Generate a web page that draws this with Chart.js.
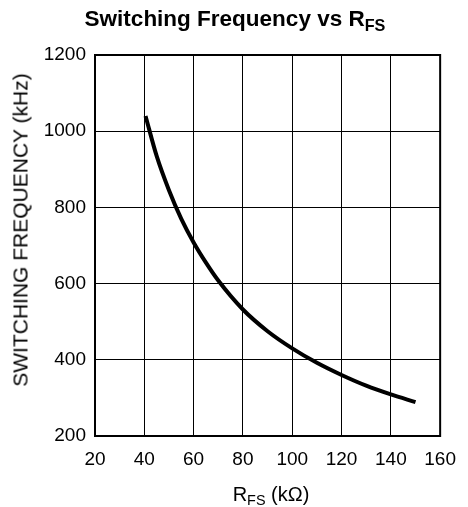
<!DOCTYPE html>
<html>
<head>
<meta charset="utf-8">
<script src="https://cdn.jsdelivr.net/npm/chart.js@4"></script>
<style>
  html, body { margin: 0; padding: 0; background: #fff; }
  #wrap { position: relative; width: 468px; height: 507px; overflow: hidden; }
  #c { position: absolute; left: 0; top: 0; }
  .t { position: absolute; font-family: "Liberation Sans", Arial, sans-serif; color: #000; white-space: nowrap; line-height: 1; }
  #title { left: 0; width: 470px; text-align: center; top: 8px; font-weight: bold; font-size: 22.5px; }
  #title sub, #xt sub { font-size: 0.72em; vertical-align: -0.3em; line-height: 0; }
  #xt { left: 0; width: 542px; text-align: center; top: 484px; font-size: 20px; }
  #yt { left: 20px; top: 230px; font-size: 21px; transform: translate(-50%, -50%) rotate(-90deg); }
</style>
</head>
<body>
<div id="wrap">
  <canvas id="c" width="468" height="507"></canvas>
  <div class="t" id="title">Switching Frequency vs R<sub>FS</sub></div>
  <div class="t" id="yt">SWITCHING FREQUENCY (kHz)</div>
  <div class="t" id="xt">R<sub>FS</sub> (kΩ)</div>
</div>
<script>
// Data
const rfsValues = [40.5, 45, 50, 55, 60, 65, 70, 80, 90, 100, 110, 120, 130, 140, 150];
const freqValues = [1040, 935, 845, 770, 708, 655, 608, 532, 475, 430, 392, 360, 332, 309, 289];
const xTicks = [20, 40, 60, 80, 100, 120, 140, 160];
const yTicks = [200, 400, 600, 800, 1000, 1200];

const points = rfsValues.map((x, i) => ({ x: x, y: freqValues[i] }));

const frame = {
  id: 'frame',
  afterDatasetsDraw(chart) {
    const a = chart.chartArea, ctx = chart.ctx;
    ctx.save();
    ctx.strokeStyle = '#000';
    ctx.lineWidth = 2;
    ctx.strokeRect(a.left, a.top, a.right - a.left, a.bottom - a.top);
    ctx.restore();
  }
};

const tickFont = { family: '"Liberation Sans", Arial, sans-serif', size: 19 };

new Chart(document.getElementById('c'), {
  type: 'line',
  data: {
    datasets: [{
      data: points,
      borderColor: '#000',
      borderWidth: 4,
      pointRadius: 0,
      fill: false,
      cubicInterpolationMode: 'monotone'
    }]
  },
  options: {
    responsive: false,
    animation: false,
    devicePixelRatio: 1,
    layout: { padding: { left: 0, top: 55, right: 23, bottom: 0 } },
    plugins: { legend: { display: false }, title: { display: false }, tooltip: { enabled: false } },
    scales: {
      x: {
        type: 'linear',
        min: xTicks[0], max: xTicks[xTicks.length - 1],
        afterBuildTicks: s => { s.ticks = xTicks.map(v => ({ value: v })); },
        afterFit: s => { s.height = 71; },
        grid: { color: '#000', lineWidth: 1, drawTicks: false },
        border: { display: false },
        ticks: { color: '#000', font: tickFont, padding: 12, maxRotation: 0, callback: v => String(v) }
      },
      y: {
        type: 'linear',
        min: yTicks[0], max: yTicks[yTicks.length - 1],
        afterBuildTicks: s => { s.ticks = yTicks.map(v => ({ value: v })); },
        afterFit: s => { s.width = 95; },
        grid: { color: '#000', lineWidth: 1, drawTicks: false },
        border: { display: false },
        ticks: { color: '#000', font: tickFont, padding: 9, callback: v => String(v) }
      }
    }
  },
  plugins: [frame]
});
</script>
</body>
</html>
